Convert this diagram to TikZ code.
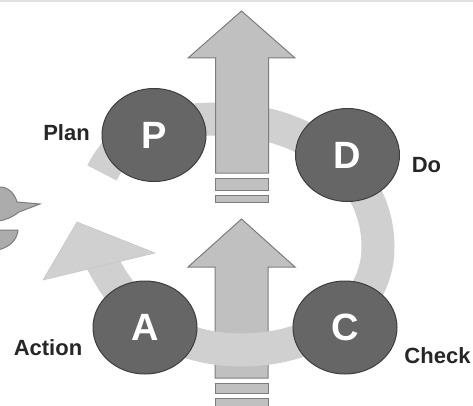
\documentclass[tikz,border=0pt]{standalone}
\usepackage{fontspec}
\setmainfont{Liberation Sans}
\usetikzlibrary{shapes.geometric}
\definecolor{ringgray}{RGB}{208,208,208}
\definecolor{arrowfill}{RGB}{192,192,192}
\definecolor{arrowedge}{RGB}{125,125,125}
\definecolor{circfill}{RGB}{102,102,102}
\definecolor{circedge}{RGB}{62,62,62}
\definecolor{nextfill}{RGB}{172,172,172}
\begin{document}
\begin{tikzpicture}[x=1pt, y=1pt, c/.style={ellipse, draw=circedge, fill=circfill, line width=1pt, minimum width=104pt, minimum height=93pt, inner sep=0pt, text=white, font=\fontsize{38}{38}\selectfont\bfseries}, l/.style={anchor=base, font=\fontsize{22}{22}\selectfont\bfseries, text=black!85}, a/.style={draw=arrowedge, fill=arrowfill, line width=1pt}, r/.style={draw=ringgray, line width=33pt}]
		      \useasboundingbox (0,0) rectangle (473,405);
		      \draw[line width=2pt, black!12] (0,404) -- (473,404);
		      % next cycle, cut off
		      \draw[a, fill=nextfill] (-2,218) .. controls (8,219) and (15,211) .. (17,203) -- (40,201) -- (19,193) .. controls (13,188) and (6,185) .. (-2,184);
		      \draw[a, fill=nextfill] (-2,175) -- (18,175) .. controls (17,165) and (10,158) .. (-2,155);
		      % lower arrow
		      \draw[a] (241.5,186) -- (295,138) -- (268,138) -- (268,27) -- (215,27) -- (215,138) -- (188,138) -- cycle;
		      \draw[a] (215,12) rectangle (268,22);
		      \draw[a] (215,-5) rectangle (268,7);
		      % ring
		      \coordinate (tail) at (102,232);
		      \coordinate (head) at (102,143);
		      \draw[r] (tail) to[out=64,in=180] (220,286) to[out=0,in=90] (378,158) to[out=-90,in=0] (242,55) to[out=180,in=-63] (head);
		      \filldraw[fill=ringgray, draw=black!22, line width=0.6pt] (77,183) -- (155,152) -- (43,125) -- cycle;
		      % upper arrow
		      \draw[a] (241.5,394) -- (295,347) -- (268.5,347) -- (268.5,232) -- (215.5,232) -- (215.5,347) -- (188,347) -- cycle;
		      \draw[a] (215.5,215) rectangle (268.5,227);
		      \draw[a] (215.5,203) rectangle (268.5,210);
		      \node[c] (P) at (154,270) {P};
		      \node[c] (D) at (347.5,250) {D};
		      \node[c] (C) at (345,77.5) {C};
		      \node[c] (A) at (145,77.5) {A};
		      \node[l] (plan) at (66.5,265) {Plan};
		      \node[l] (do) at (426.5,233) {Do};
		      \node[l] (check) at (437.5,42) {Check};
		      \node[l] (action) at (48,50) {Action};
		    \end{tikzpicture}
\end{document}
